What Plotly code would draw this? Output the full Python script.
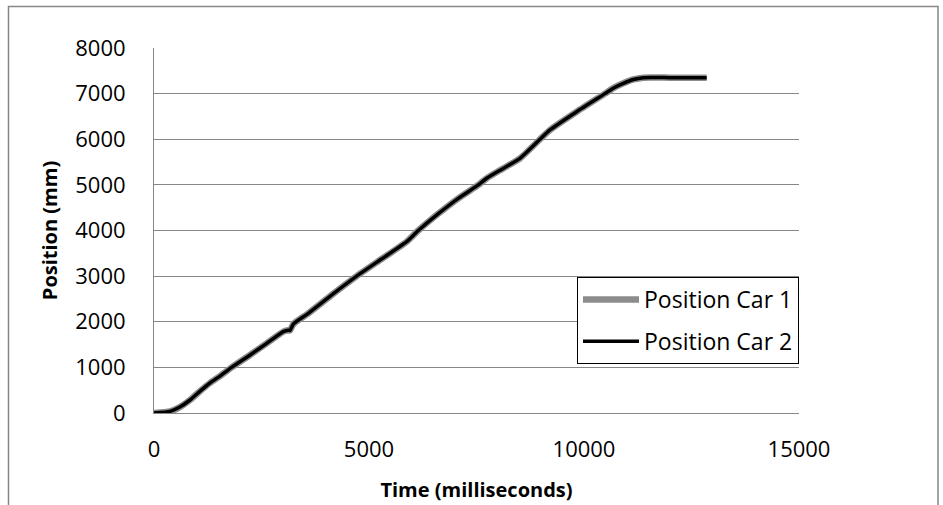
import plotly.graph_objects as go

# Time stamps (ms) and measured positions (mm) for the two cars
time_ms = [0, 372, 600, 837, 1060, 1302, 1550, 1806, 2233, 2620, 3008, 3120, 3163,
           3240, 3589, 4150, 4713, 5300, 5876, 6147, 6600, 7078, 7543, 7736, 8100,
           8512, 8977, 9209, 9830, 10488, 10700, 10914, 11150, 11379, 12000, 12853]
car1_pos = [0, 35, 130, 285, 470, 657, 820, 1000, 1271, 1527, 1785, 1815, 1810,
            1950, 2185, 2600, 3000, 3380, 3755, 4000, 4360, 4705, 5000, 5144, 5350,
            5582, 6000, 6203, 6604, 7000, 7130, 7226, 7310, 7350, 7350, 7350]
car2_pos = [0, 35, 130, 285, 470, 657, 820, 1000, 1271, 1527, 1785, 1815, 1810,
            1950, 2185, 2600, 3000, 3380, 3755, 4000, 4360, 4705, 5000, 5144, 5350,
            5582, 6000, 6203, 6604, 7000, 7130, 7226, 7310, 7350, 7350, 7350]

y_ticks = list(range(0, 8001, 1000))
x_ticks = [0, 5000, 10000, 15000]

GRID = "#878787"
FONT = "Open Sans"

fig = go.Figure()
fig.add_trace(go.Scatter(
    x=time_ms, y=car1_pos, mode="lines", name="Position Car 1", legendgroup="c1",
    line=dict(color="#8c8c8c", width=6.5, shape="spline", smoothing=0.5),
))
fig.add_trace(go.Scatter(
    x=time_ms, y=car2_pos, mode="lines", name="Position Car 2", legendgroup="c2",
    line=dict(color="#000000", width=3.5, shape="spline", smoothing=0.5),
))

L, R, T, B = 154, 144, 48, 92
W, H = 943, 505
pw, ph = W - L - R, H - T - B


def px_x(p):
    return (p - L) / pw


def px_y(p):
    return (H - B - p) / ph


# outer chart frame (left, top and right edges)
fx0, fx1 = px_x(8.5), px_x(938)
fy_top, fy_bot = px_y(6.5), px_y(530)
fig.add_shape(type="path", xref="paper", yref="paper",
              path=f"M {fx0} {fy_bot} L {fx0} {fy_top} L {fx1} {fy_top} L {fx1} {fy_bot}",
              line=dict(color=GRID, width=1.5))

fig.update_layout(
    width=W, height=H,
    margin=dict(l=L, r=R, t=T, b=B, pad=0, autoexpand=False),
    paper_bgcolor="white", plot_bgcolor="white",
    font=dict(family=FONT, size=22, color="black"),
    showlegend=True,
    legend=dict(
        x=px_x(577), y=px_y(277), xanchor="left", yanchor="top",
        bgcolor="white", bordercolor="black", borderwidth=1,
        font=dict(family=FONT, size=23, color="black"),
        traceorder="grouped", tracegroupgap=9, itemwidth=56,
    ),
    xaxis=dict(
        range=[0, 15000], tickvals=x_ticks, ticktext=[str(v) for v in x_ticks],
        showgrid=False, zeroline=False, showline=True, linecolor=GRID, linewidth=1,
        ticks="", ticklabelstandoff=17, automargin=False,
        tickfont=dict(family=FONT, size=22),
        title=dict(text="<b>Time (milliseconds)</b>", standoff=20,
                   font=dict(family=FONT, size=20)),
    ),
    yaxis=dict(
        range=[0, 8000], tickvals=y_ticks, ticktext=[str(v) for v in y_ticks],
        showgrid=True, gridcolor=GRID, gridwidth=1, zeroline=False,
        showline=True, linecolor=GRID, linewidth=1,
        ticks="", ticklabelstandoff=23, automargin=False,
        tickfont=dict(family=FONT, size=22),
        title=dict(text="<b>Position (mm)</b>", standoff=12,
                   font=dict(family=FONT, size=20)),
    ),
)

fig.write_html("out.html")
